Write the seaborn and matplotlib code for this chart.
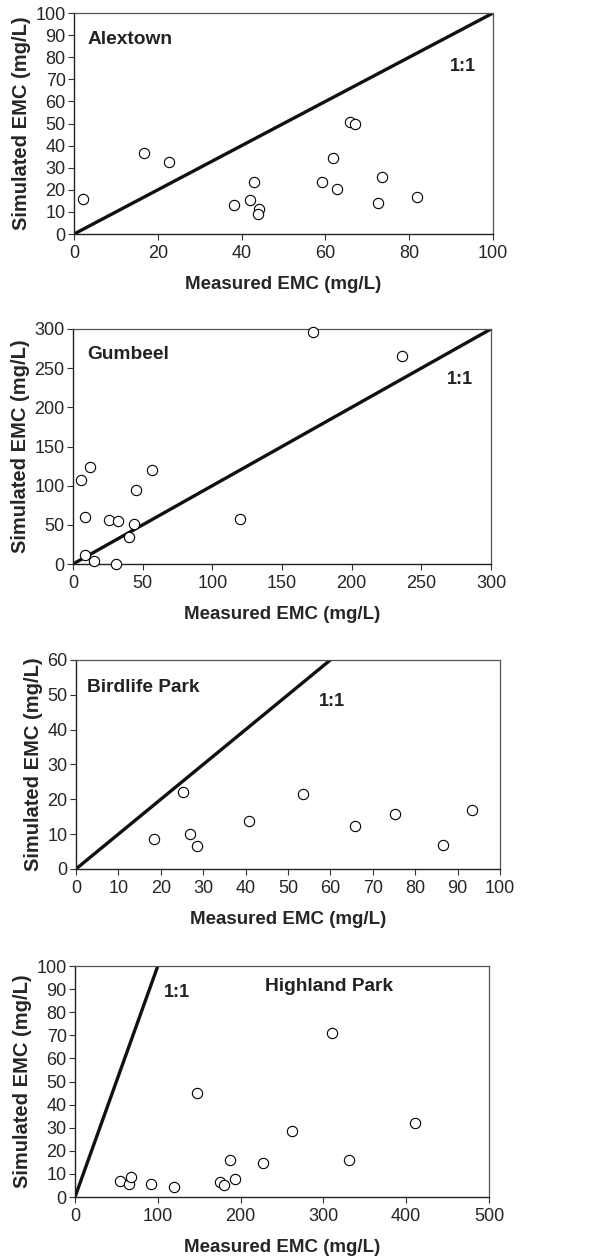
import matplotlib
matplotlib.use("Agg")
import matplotlib.pyplot as plt
import pandas as pd
import seaborn as sns

sns.set_theme(style="ticks")
plt.rcParams["font.family"] = ["Liberation Sans", "DejaVu Sans"]

# Alextown
alex_measured = [2.2, 16.8, 22.6, 38.1, 42.0, 43.0, 44.1, 44.0, 59.2, 61.9, 62.7, 65.8, 67.0, 72.5, 73.6, 81.9]
alex_simulated = [15.8, 36.7, 32.6, 13.1, 15.4, 23.4, 11.3, 9.2, 23.4, 34.4, 20.2, 50.5, 49.9, 14.0, 25.6, 16.6]

# Gumbeel
gum_measured = [5.7, 12.0, 8.9, 8.9, 15.3, 25.8, 32.1, 30.6, 40.0, 43.5, 45.2, 56.9, 119.9, 172.0, 236.1]
gum_simulated = [107.7, 123.4, 60.0, 11.9, 3.4, 55.7, 54.9, 0.0, 34.0, 51.5, 94.9, 120.0, 57.4, 296.2, 266.0]

# Birdlife Park
bird_measured = [18.5, 25.2, 26.8, 28.5, 40.9, 53.5, 65.9, 75.2, 86.6, 93.5]
bird_simulated = [8.6, 22.0, 9.9, 6.5, 13.9, 21.6, 12.2, 15.9, 6.9, 17.0]

# Highland Park
high_measured = [53.9, 64.8, 67.2, 92.2, 119.6, 146.9, 174.7, 179.5, 186.8, 193.2, 227.5, 262.5, 310.4, 331.3, 410.6]
high_simulated = [6.8, 5.8, 8.8, 5.8, 4.3, 45.2, 6.5, 5.1, 16.0, 7.8, 14.7, 28.5, 71.0, 16.2, 32.2]

panels = [
    dict(name="Alextown", x=alex_measured, y=alex_simulated, xmax=100, ymax=100,
         xticks=range(0, 101, 20), yticks=range(0, 101, 10),
         rect=[0.1254, 0.8141, 0.710, 0.1755], name_xy=(3.2, 88), one_xy=(92.8, 76)),
    dict(name="Gumbeel", x=gum_measured, y=gum_simulated, xmax=300, ymax=300,
         xticks=range(0, 301, 50), yticks=range(0, 301, 50),
         rect=[0.1237, 0.5520, 0.7085, 0.1867], name_xy=(10.5, 268), one_xy=(278, 235)),
    dict(name="Birdlife Park", x=bird_measured, y=bird_simulated, xmax=100, ymax=60,
         xticks=range(0, 101, 10), yticks=range(0, 61, 10),
         rect=[0.1288, 0.3098, 0.7186, 0.1660], name_xy=(2.7, 52), one_xy=(60.3, 48)),
    dict(name="Highland Park", x=high_measured, y=high_simulated, xmax=500, ymax=100,
         xticks=range(0, 501, 100), yticks=range(0, 101, 10),
         rect=[0.1271, 0.0492, 0.7017, 0.1835], name_xy=(230, 91), one_xy=(123, 88.5)),
]

fig = plt.figure(figsize=(5.9, 12.59), dpi=100)

for p in panels:
    ax = fig.add_axes(p["rect"])
    frame = pd.DataFrame({"measured": p["x"], "simulated": p["y"]})
    one_to_one = pd.DataFrame({"measured": [0, p["xmax"]], "simulated": [0, p["xmax"]]})
    sns.lineplot(data=one_to_one, x="measured", y="simulated", ax=ax,
                 color="#111111", linewidth=2.4)
    sns.scatterplot(data=frame, x="measured", y="simulated", ax=ax, s=55,
                    facecolor="white", edgecolor="black", linewidth=0.8, zorder=3, clip_on=False)
    ax.set_xlim(0, p["xmax"])
    ax.set_ylim(0, p["ymax"])
    ax.set_xticks(list(p["xticks"]))
    ax.set_yticks(list(p["yticks"]))
    ax.tick_params(axis="both", labelsize=13, length=4, width=0.8, color="#333333")
    ax.tick_params(axis="x", pad=4)
    ax.tick_params(axis="y", pad=2)
    ax.set_xlabel("Measured EMC (mg/L)", fontsize=13.5, fontweight="bold", labelpad=10)
    ax.set_ylabel("Simulated EMC (mg/L)", fontsize=14.5, fontweight="bold", labelpad=3)
    for side in ["left", "bottom"]:
        ax.spines[side].set_color("#222222")
        ax.spines[side].set_linewidth(1.0)
    for side in ["top", "right"]:
        ax.spines[side].set_color("#555555")
        ax.spines[side].set_linewidth(0.9)
    ax.text(p["name_xy"][0], p["name_xy"][1], p["name"], fontsize=13.8, fontweight="bold",
            ha="left", va="center", color="#222222")
    ax.text(p["one_xy"][0], p["one_xy"][1], "1:1", fontsize=13, fontweight="bold",
            ha="center", va="center", color="#222222")

fig.savefig("out.png", dpi=100)
